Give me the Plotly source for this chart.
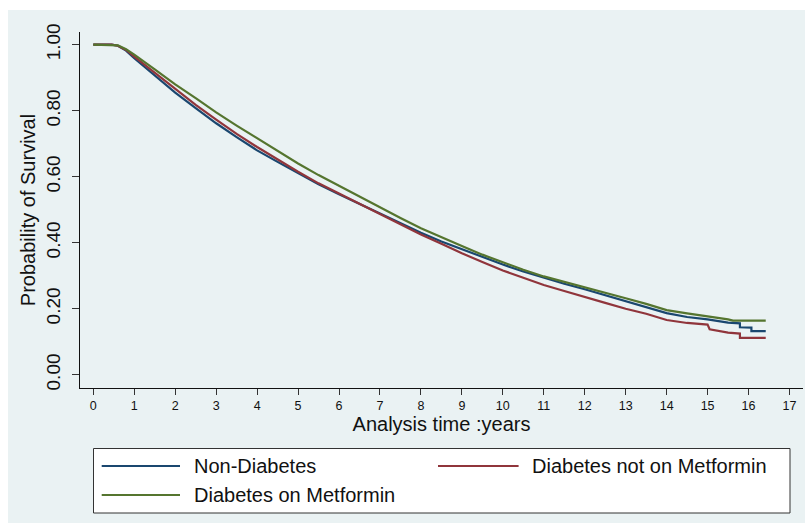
import plotly.graph_objects as go

# ---------------- data ----------------
series_names = ["Non-Diabetes", "Diabetes not on Metformin", "Diabetes on Metformin"]
series_colors = ["#1A476F", "#90353B", "#55752F"]

t_nondiab = [0, 0.45, 0.6, 0.8, 1.0, 1.5, 2.0, 2.5, 3.0, 3.5, 4.0, 4.5, 5.0, 5.5, 6.0, 6.5,
             7.0, 7.5, 8.0, 8.5, 9.0, 9.5, 10.0, 10.5, 11.0, 11.5, 12.0, 12.5, 13.0, 13.5,
             14.0, 14.5, 15.0, 15.5, 15.79, 15.79, 16.07, 16.07, 16.42]
s_nondiab = [1.0, 1.0, 0.997, 0.982, 0.959, 0.908, 0.855, 0.808, 0.762, 0.72, 0.68, 0.645,
             0.61, 0.577, 0.547, 0.518, 0.49, 0.46, 0.43, 0.404, 0.38, 0.356, 0.334, 0.313,
             0.294, 0.276, 0.259, 0.241, 0.222, 0.204, 0.187, 0.175, 0.168, 0.158, 0.156,
             0.144, 0.143, 0.132, 0.132]

t_notmet = [0, 0.45, 0.6, 0.8, 1.0, 1.5, 2.0, 2.5, 3.0, 3.5, 4.0, 4.5, 5.0, 5.5, 6.0, 6.5,
            7.0, 7.5, 8.0, 8.5, 9.0, 9.5, 10.0, 10.5, 11.0, 11.5, 12.0, 12.5, 13.0, 13.5,
            14.0, 14.5, 15.0, 15.05, 15.5, 15.79, 15.79, 16.42]
s_notmet = [1.0, 1.0, 0.997, 0.984, 0.964, 0.915, 0.866, 0.818, 0.773, 0.73, 0.69, 0.652,
            0.615, 0.58, 0.549, 0.518, 0.488, 0.456, 0.425, 0.397, 0.368, 0.342, 0.316,
            0.294, 0.272, 0.254, 0.237, 0.218, 0.200, 0.185, 0.166, 0.157, 0.152, 0.138,
            0.128, 0.125, 0.112, 0.112]

t_met = [0, 0.45, 0.6, 0.8, 1.0, 1.5, 2.0, 2.5, 3.0, 3.5, 4.0, 4.5, 5.0, 5.5, 6.0, 6.5,
         7.0, 7.5, 8.0, 8.5, 9.0, 9.5, 10.0, 10.5, 11.0, 11.5, 12.0, 12.5, 13.0, 13.5,
         14.0, 14.5, 15.0, 15.5, 15.62, 16.42]
s_met = [1.0, 1.0, 0.998, 0.986, 0.97, 0.925, 0.88, 0.838, 0.795, 0.755, 0.716, 0.678,
         0.64, 0.605, 0.572, 0.54, 0.508, 0.475, 0.444, 0.416, 0.39, 0.364, 0.34, 0.318,
         0.298, 0.282, 0.265, 0.248, 0.232, 0.215, 0.196, 0.186, 0.178, 0.168, 0.164, 0.164]

x_ticks = list(range(0, 18))
y_ticks = [0.0, 0.2, 0.4, 0.6, 0.8, 1.0]
y_ticktext = ["0.00", "0.20", "0.40", "0.60", "0.80", "1.00"]

x_title = "Analysis time :years"
y_title = "Probability of Survival"

# ---------------- figure ----------------
W, H = 805, 523
ML, MR, MT, MB = 80, 2, 32, 135
PW, PH = W - ML - MR, H - MT - MB
FONT = "Liberation Sans, Arial, sans-serif"
BG = "#EAF2F3"


def px_x(px):
    return (px - ML) / PW


def px_y(py):
    return (H - MB - py) / PH


fig = go.Figure()
all_t = [t_nondiab, t_notmet, t_met]
all_s = [s_nondiab, s_notmet, s_met]
for name, color, t, s in zip(series_names, series_colors, all_t, all_s):
    fig.add_trace(go.Scatter(x=t, y=s, mode="lines", name=name,
                             line=dict(color=color, width=2.2), showlegend=False))

shapes = []
# outer light background region
shapes.append(dict(type="rect", xref="paper", yref="paper",
                   x0=px_x(8), x1=px_x(W + 20), y0=px_y(H + 20), y1=px_y(10),
                   fillcolor=BG, line=dict(width=0), layer="below"))
# legend box
shapes.append(dict(type="rect", xref="paper", yref="paper",
                   x0=px_x(93.5), x1=px_x(790), y0=px_y(513), y1=px_y(448.5),
                   fillcolor="white", line=dict(color="#333333", width=1)))

annotations = []
legend_pos = [(101.7, 180, 191.5, 466), (438, 518.6, 530, 466), (101.7, 180, 191.5, 495)]
for (lx0, lx1, tx, ly), name, color in zip(legend_pos, series_names, series_colors):
    shapes.append(dict(type="line", xref="paper", yref="paper",
                       x0=px_x(lx0), x1=px_x(lx1), y0=px_y(ly), y1=px_y(ly),
                       line=dict(color=color, width=2)))
    annotations.append(dict(xref="paper", yref="paper", x=px_x(tx), y=px_y(ly),
                            text=name, showarrow=False, xanchor="left", yanchor="middle",
                            font=dict(family=FONT, size=20, color="#111111")))

fig.update_layout(
    width=W, height=H, autosize=False,
    margin=dict(l=ML, r=MR, t=MT, b=MB, pad=0),
    paper_bgcolor="white", plot_bgcolor="white",
    font=dict(family=FONT, color="#111111"),
    shapes=shapes, annotations=annotations,
    showlegend=False,
)

fig.update_xaxes(
    range=[-0.325, 17.33], tickmode="array", tickvals=x_ticks,
    ticks="outside", ticklen=6, tickwidth=1, tickcolor="#333333",
    showline=True, linecolor="#111111", linewidth=1.2,
    showgrid=False, zeroline=False,
    tickfont=dict(size=12.5, color="#111111"),
    title=dict(text=x_title, font=dict(size=20, color="#111111"), standoff=4),
)
fig.update_yaxes(
    range=[-0.040, 1.0385], tickmode="array", tickvals=y_ticks, ticktext=y_ticktext,
    tickangle=-90, ticks="outside", ticklen=7, tickwidth=1, tickcolor="#333333",
    showline=True, linecolor="#111111", linewidth=1.2,
    showgrid=True, gridcolor=BG, gridwidth=1.5, zeroline=False,
    tickfont=dict(size=19, color="#111111"), ticklabelstandoff=4,
    title=dict(text=y_title, font=dict(size=20, color="#111111"), standoff=2),
)

fig.write_html("out.html")
